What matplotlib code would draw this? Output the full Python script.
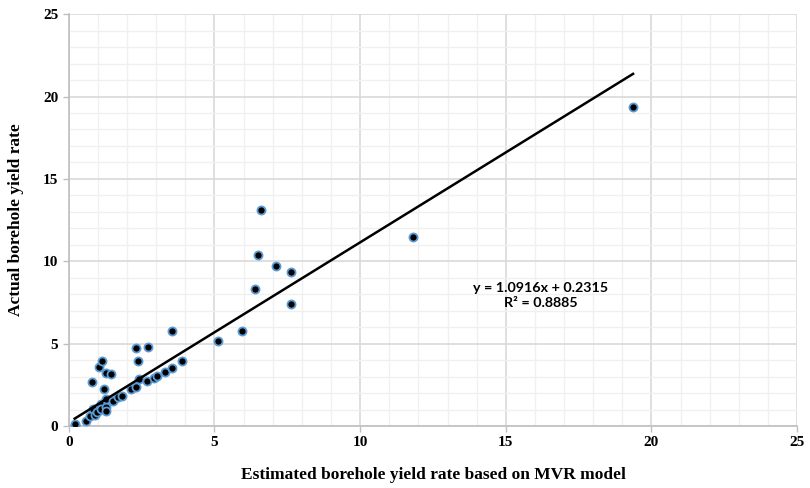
import numpy as np
import matplotlib.pyplot as plt
from matplotlib.ticker import MultipleLocator

# estimated vs actual borehole yield rate
x_est = [0.20, 0.22, 0.58, 0.72, 0.79, 0.84, 0.89, 0.98, 1.02, 1.09, 1.11, 1.14,
         1.21, 1.26, 1.27, 1.27, 1.27, 1.44, 1.50, 1.69, 1.81, 2.12, 2.29, 2.32,
         2.37, 2.40, 2.67, 2.71, 2.93, 3.01, 3.30, 3.53, 3.53, 3.90, 5.13, 5.93,
         6.39, 6.51, 6.60, 7.10, 7.62, 7.62, 11.80, 19.37]
y_act = [0.06, 0.14, 0.29, 0.62, 2.70, 1.01, 0.67, 0.85, 3.59, 1.33, 1.03, 3.97,
         2.24, 1.17, 3.21, 1.62, 0.93, 3.13, 1.50, 1.78, 1.82, 2.22, 2.39, 4.71,
         3.96, 2.84, 2.73, 4.79, 2.93, 3.03, 3.30, 3.54, 5.76, 3.96, 5.17, 5.76,
         8.30, 10.40, 13.10, 9.73, 9.34, 7.40, 11.45, 19.36]

slope = 1.0916
intercept = 0.2315
r2 = 0.8885

fig = plt.figure(figsize=(8.1, 4.88), dpi=100)
ax = fig.add_axes([0.085, 0.127, 0.899, 0.844])

ax.set_xlim(0, 25)
ax.set_ylim(0, 25)
ax.xaxis.set_major_locator(MultipleLocator(5))
ax.yaxis.set_major_locator(MultipleLocator(5))
ax.xaxis.set_minor_locator(MultipleLocator(1))
ax.yaxis.set_minor_locator(MultipleLocator(1))
ax.grid(which="major", color="#d9d9d9", linewidth=1.2, zorder=0)
ax.grid(which="minor", color="#f0f0f0", linewidth=1.0, zorder=0)
ax.set_axisbelow(True)

for s in ["top", "right"]:
    ax.spines[s].set_visible(False)
for s in ["left", "bottom"]:
    ax.spines[s].set_color("#bfbfbf")
    ax.spines[s].set_linewidth(1.2)
ax.tick_params(which="major", length=4, color="#bfbfbf", width=1)
ax.tick_params(which="minor", length=0)

ax.scatter(x_est, y_act, s=34, c="black", edgecolors="#5b9bd5",
           linewidths=1.3, zorder=3)

xl = np.array([min(x_est), max(x_est)])
ax.plot(xl, slope * xl + intercept, color="black", linewidth=1.8, zorder=4)

ax.text(16.2, 7.9, f"y = {slope}x + {intercept}\nR² = {r2}",
        ha="center", va="center", fontsize=10.3, fontweight="bold",
        family=["Lato", "DejaVu Sans"], linespacing=1.3)

for lab in ax.get_xticklabels() + ax.get_yticklabels():
    lab.set_family("Liberation Serif")
    lab.set_fontweight("bold")
    lab.set_fontsize(11)

ax.set_xlabel("Estimated borehole yield rate based on MVR model",
              family="Liberation Serif", fontweight="bold", fontsize=12.5,
              labelpad=13)
ax.set_ylabel("Actual borehole yield rate",
              family="Liberation Serif", fontweight="bold", fontsize=12.5,
              labelpad=14)

plt.savefig("out.png", dpi=100)
